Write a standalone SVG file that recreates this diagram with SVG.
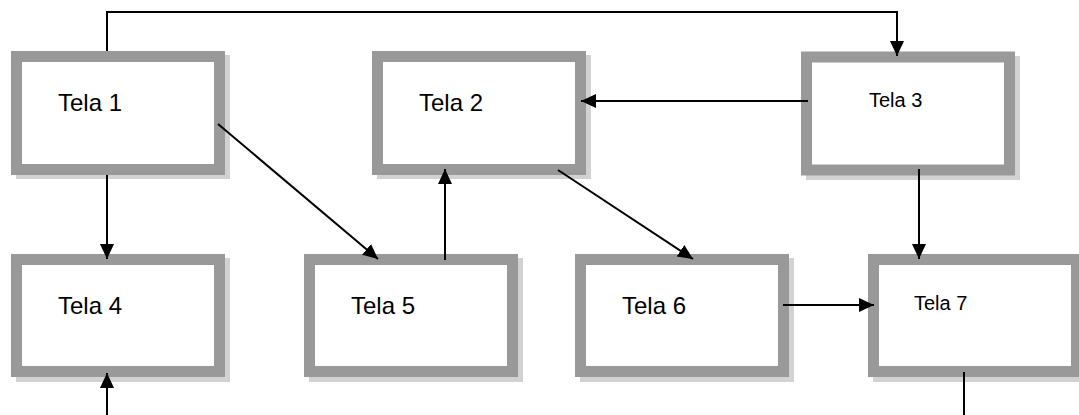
<svg xmlns="http://www.w3.org/2000/svg" width="1079" height="415" viewBox="0 0 1079 415">
<defs>
<style>
.shadow{fill:#d2d2d2}
.box{fill:#ffffff;stroke:#999999;stroke-width:11}
.lbl{font-family:"Liberation Sans",Arial,sans-serif;font-size:24px;fill:#000}
.sm{font-size:20px}
.edge{fill:none;stroke:#000;stroke-width:2}
</style>
<marker id="arr" markerUnits="userSpaceOnUse" markerWidth="16" markerHeight="16" viewBox="0 0 16 16" refX="15" refY="8" orient="auto">
<path d="M0,1 L15,8 L0,15 Z" fill="#000"/>
</marker>
</defs>
<rect width="1079" height="415" fill="#fff"/>
<g id="tela1">
<rect class="shadow" x="16" y="55" width="214" height="124"/>
<rect class="box" x="16.5" y="56.5" width="203" height="113"/>
<text class="lbl" x="58" y="111">Tela 1</text>
</g>
<g id="tela2">
<rect class="shadow" x="377" y="55" width="214" height="124"/>
<rect class="box" x="377.5" y="56.5" width="203" height="113"/>
<text class="lbl" x="419" y="111">Tela 2</text>
</g>
<g id="tela3">
<rect class="shadow" x="806" y="56" width="214" height="124"/>
<rect class="box" x="806.5" y="57" width="203" height="113"/>
<text class="lbl sm" x="869" y="107">Tela 3</text>
</g>
<g id="tela4">
<rect class="shadow" x="16" y="258" width="214" height="124"/>
<rect class="box" x="16.5" y="259.5" width="203" height="112"/>
<text class="lbl" x="58" y="314">Tela 4</text>
</g>
<g id="tela5">
<rect class="shadow" x="309" y="258" width="214" height="124"/>
<rect class="box" x="309.5" y="259.5" width="203" height="112"/>
<text class="lbl" x="351" y="314">Tela 5</text>
</g>
<g id="tela6">
<rect class="shadow" x="580" y="258" width="214" height="124"/>
<rect class="box" x="580.5" y="259.5" width="203" height="112"/>
<text class="lbl" x="622" y="314">Tela 6</text>
</g>
<g id="tela7">
<rect class="shadow" x="873" y="258" width="214" height="124"/>
<rect class="box" x="873.5" y="259.5" width="203" height="112"/>
<text class="lbl sm" x="914" y="310">Tela 7</text>
</g>
<g id="connectors">
<polyline class="edge" points="107,51 107,12 897,12 897,56" marker-end="url(#arr)"/>
<line class="edge" x1="107" y1="175" x2="107" y2="259" marker-end="url(#arr)"/>
<line class="edge" x1="218" y1="124" x2="378" y2="259" marker-end="url(#arr)"/>
<line class="edge" x1="445" y1="260" x2="445" y2="169" marker-end="url(#arr)"/>
<line class="edge" x1="808" y1="101" x2="581" y2="101" marker-end="url(#arr)"/>
<line class="edge" x1="558" y1="170" x2="693" y2="259" marker-end="url(#arr)"/>
<line class="edge" x1="919" y1="169" x2="919" y2="259" marker-end="url(#arr)"/>
<line class="edge" x1="783" y1="305" x2="874" y2="305" marker-end="url(#arr)"/>
<line class="edge" x1="964" y1="372" x2="964" y2="415"/>
<line class="edge" x1="107" y1="415" x2="107" y2="373" marker-end="url(#arr)"/>
</g>
</svg>
